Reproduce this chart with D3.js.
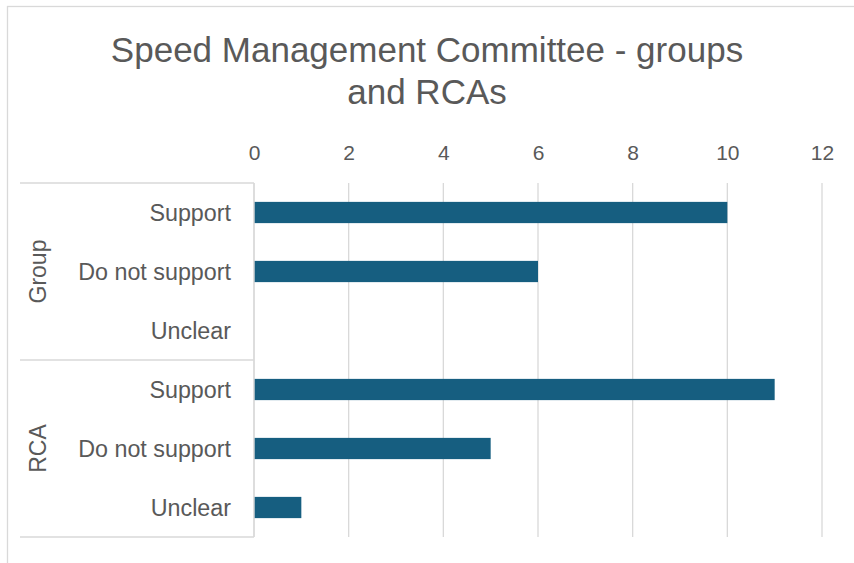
<!DOCTYPE html>
<html>
<head>
<meta charset="utf-8">
<script src="https://cdn.jsdelivr.net/npm/d3@7"></script>
<style>
  html, body { margin: 0; padding: 0; background: #fff; }
  svg { display: block; font-family: "Liberation Sans", Arial, sans-serif; }
</style>
</head>
<body>
<svg id="chart" width="854" height="563"></svg>
<script>
// Responses by respondent type
const groups = ["Group", "RCA"];
const responses = ["Support", "Do not support", "Unclear"];
const groupValues = [10, 6, 0];
const rcaValues = [11, 5, 1];
const xTicks = [0, 2, 4, 6, 8, 10, 12];
const titleLines = ["Speed Management Committee - groups", "and RCAs"];

const rows = [];
groups.forEach((g, gi) => {
  const vals = gi === 0 ? groupValues : rcaValues;
  responses.forEach((r, ri) => rows.push({ group: g, response: r, value: vals[ri], key: g + "|" + r }));
});

const svg = d3.select("#chart");
const textColor = "#595959";
const gridColor = "#d9d9d9";
const barColor = "#165e80";

const plot = { left: 254, right: 822, top: 183, bottom: 537 };
const catLeft = 20;

// chart frame
svg.append("rect")
  .attr("x", 7.5).attr("y", 6.5)
  .attr("width", 900).attr("height", 600)
  .attr("fill", "none").attr("stroke", gridColor).attr("stroke-width", 1.3);

const x = d3.scaleLinear().domain([0, 12]).range([plot.left, plot.right]);
const y = d3.scaleBand().domain(rows.map(d => d.key))
  .range([plot.top, plot.bottom]).paddingInner(0.64).paddingOuter(0.32);
const yGroup = d3.scaleBand().domain(groups).range([plot.top, plot.bottom]);

// title
svg.append("text")
  .attr("x", 427).attr("y", 62)
  .attr("text-anchor", "middle")
  .attr("fill", textColor).style("font-size", "35px")
  .selectAll("tspan").data(titleLines).join("tspan")
  .attr("x", 427).attr("dy", (d, i) => i === 0 ? 0 : 42)
  .text(d => d);

// vertical gridlines
svg.append("g").selectAll("line").data(xTicks).join("line")
  .attr("x1", d => x(d)).attr("x2", d => x(d))
  .attr("y1", plot.top).attr("y2", plot.bottom)
  .attr("stroke", gridColor).attr("stroke-width", 1.3);

// top value axis labels
const xAxis = d3.axisTop(x).tickValues(xTicks).tickSize(0).tickPadding(0);
const gx = svg.append("g").attr("transform", `translate(0,${160})`).call(xAxis);
gx.select(".domain").remove();
gx.selectAll("text").attr("fill", textColor).style("font-size", "21px")
  .style("font-family", "'Liberation Sans', Arial, sans-serif");

// category axis: separators between groups
const sepYs = [plot.top, ...groups.map(g => yGroup(g) + yGroup.bandwidth())];
svg.append("g").selectAll("line").data(sepYs).join("line")
  .attr("x1", catLeft).attr("x2", plot.left)
  .attr("y1", d => d).attr("y2", d => d)
  .attr("stroke", gridColor).attr("stroke-width", 1.3);
svg.append("line")
  .attr("x1", plot.left).attr("x2", plot.left)
  .attr("y1", plot.top).attr("y2", plot.bottom)
  .attr("stroke", gridColor).attr("stroke-width", 1.3);

// response labels
svg.append("g").selectAll("text").data(rows).join("text")
  .attr("x", 231).attr("y", d => y(d.key) + y.bandwidth() / 2)
  .attr("dy", "0.35em").attr("text-anchor", "end")
  .attr("fill", textColor).style("font-size", "23.3px")
  .text(d => d.response);

// group labels
svg.append("g").selectAll("text").data(groups).join("text")
  .attr("transform", d => `translate(38,${yGroup(d) + yGroup.bandwidth() / 2}) rotate(-90)`)
  .attr("dy", "0.35em").attr("text-anchor", "middle")
  .attr("fill", textColor).style("font-size", "23px")
  .text(d => d);

// bars
svg.append("g").selectAll("rect").data(rows.filter(d => d.value > 0)).join("rect")
  .attr("x", x(0) + 0.7).attr("y", d => y(d.key))
  .attr("width", d => x(d.value) - x(0) - 0.7)
  .attr("height", y.bandwidth())
  .attr("fill", barColor);
</script>
</body>
</html>
